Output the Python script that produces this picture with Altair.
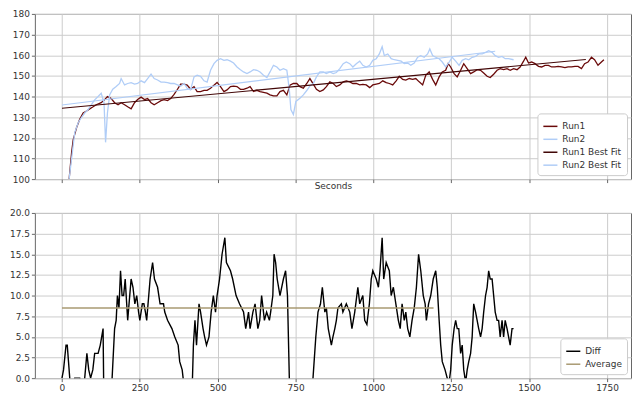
import altair as alt
import pandas as pd

# ---------------- data ----------------
run1_t = [0, 10, 18, 23, 31, 36, 47, 57, 68, 79, 89, 100, 110, 126, 137, 146, 158, 169, 180, 190,
          201, 211, 222, 233, 243, 254, 265, 275, 286, 296, 307, 318, 328, 339, 349, 360, 371, 381,
          392, 402, 413, 424, 434, 445, 456, 466, 477, 488, 498, 509, 520, 530, 541, 551, 562, 573,
          583, 594, 604, 615, 626, 636, 647, 658, 668, 679, 690, 700, 711, 722, 732, 743, 754, 764,
          775, 786, 796, 807, 817, 828, 839, 849, 860, 871, 881, 892, 903, 913, 924, 934, 945, 956,
          966, 977, 988, 998, 1009, 1019, 1030, 1041, 1051, 1062, 1073, 1083, 1094, 1104, 1115,
          1126, 1136, 1147, 1158, 1168, 1179, 1190, 1200, 1211, 1221, 1232, 1240, 1248, 1259, 1269,
          1280, 1290, 1301, 1312, 1322, 1333, 1344, 1354, 1365, 1375, 1386, 1397, 1407, 1418, 1429,
          1439, 1450, 1461, 1471, 1482, 1489, 1498, 1508, 1519, 1530, 1540, 1551, 1562, 1572, 1583,
          1593, 1604, 1615, 1625, 1636, 1647, 1657, 1668, 1678, 1689, 1700, 1710, 1721, 1732, 1740]
run1_v = [80, 88, 96, 100, 113, 119, 125, 129, 132, 133, 134, 135, 136, 137, 138.5, 140, 139, 137,
          136, 137, 136, 135, 134, 137, 138.5, 139.7, 138.5, 139, 137, 136, 137, 138, 138.5, 138,
          139, 141, 143.5, 146, 146, 145.5, 143.5, 144.8, 142.4, 142.4, 143, 143, 144, 145.5, 146.8,
          144.8, 142.4, 143.2, 144.8, 145, 144.8, 143.5, 143.5, 144, 144.8, 142.4, 143, 142.4, 142,
          141.6, 140.8, 140.3, 140.3, 142.4, 143, 140.8, 145.5, 146.3, 146.3, 144.8, 144, 146.3,
          148.7, 146, 143.5, 142.4, 143.2, 144.8, 147.1, 146.3, 144.8, 145.6, 147.1, 147.6, 147.1,
          146.3, 146.3, 145.6, 145.9, 145.6, 144.3, 145.6, 146, 146.3, 147.6, 146.7, 146.3, 145.6,
          147.6, 149.8, 148.3, 147.9, 148.7, 148.3, 148.7, 147.1, 145.6, 150.3, 151.9, 148.3, 145.6,
          149.5, 151.9, 152.7, 155.9, 154.3, 151.1, 149.5, 152.7, 155.9, 153.5, 151.1, 151.9, 153,
          152.7, 151.4, 149.8, 149.2, 150.8, 152.7, 153.5, 153, 153.5, 152.7, 153.5, 153, 154.3,
          157.1, 159, 156.2, 156.7, 155.9, 154.6, 154.3, 155.1, 155.1, 154.3, 154.3, 154.6, 154.3,
          154, 154.3, 154.3, 154.6, 154.6, 153.5, 155.9, 156.7, 159, 157.8, 155.1, 156.7, 157.8]

run2_t = [0, 10, 18, 23, 31, 41, 52, 62, 73, 84, 94, 105, 116, 126, 135, 140, 146, 153, 163, 174,
          185, 190, 201, 211, 222, 233, 243, 254, 265, 275, 286, 296, 307, 318, 328, 339, 349, 360,
          371, 381, 392, 402, 413, 424, 434, 445, 456, 466, 477, 488, 498, 509, 520, 530, 541, 551,
          562, 573, 583, 594, 604, 615, 626, 636, 647, 658, 668, 679, 690, 700, 711, 722, 730, 735,
          743, 751, 764, 775, 786, 796, 807, 817, 828, 839, 849, 860, 871, 881, 892, 903, 913, 924,
          934, 945, 956, 966, 977, 988, 998, 1009, 1019, 1028, 1035, 1046, 1057, 1067, 1078, 1089,
          1099, 1110, 1120, 1131, 1142, 1152, 1163, 1174, 1181, 1190, 1200, 1211, 1221, 1232, 1243,
          1253, 1264, 1275, 1285, 1296, 1306, 1317, 1328, 1338, 1349, 1360, 1370, 1381, 1391, 1402,
          1413, 1423, 1434, 1450]
run2_v = [78, 86, 95, 100, 110, 122.5, 127.3, 129.7, 132, 133.7, 136, 138.4, 140, 141.6, 137, 117.8,
          132, 140.8, 143.5, 144.8, 146.3, 148.7, 145.6, 146.3, 146.7, 146, 146.3, 147.6, 146.7,
          148.7, 150.8, 148.7, 148, 147, 147, 146.7, 146.3, 146.3, 145.6, 145, 146.3, 144, 143.2,
          149.5, 150.3, 149.8, 147.6, 147, 152.7, 155.9, 157.5, 158.3, 157.5, 157.8, 157.1, 156.2,
          154.3, 153, 151.9, 151.1, 151.9, 153, 152.7, 151.9, 150.3, 149.2, 151.9, 155.1, 154.3,
          152.7, 153.5, 152.7, 143.2, 133.7, 131.3, 137.6, 139.2, 140.8, 142.9, 145.1, 146.3, 149.5,
          151.9, 151.9, 151.1, 151.9, 151.1, 151.6, 153.5, 155.9, 156.7, 155.9, 154.3, 155.9, 157.1,
          155.1, 154.3, 155.1, 157.5, 158.3, 160.6, 164.1, 159.8, 160.6, 158.3, 157.8, 157.5, 157.1,
          155.9, 156.2, 155.1, 156.2, 159, 159.8, 159, 160.6, 163, 159.8, 159, 158.3, 156.7, 154.3,
          156.7, 159, 157.1, 155.1, 157.5, 158.3, 157.8, 159, 159.4, 160.6, 160.6, 161.4, 162.2,
          161.4, 159.8, 159, 159.4, 158.3, 158.3, 157.8]

fit1_t = [0, 1682]
fit1_v = [134.3, 157.9]
fit2_t = [0, 1391]
fit2_v = [135.9, 161.9]

diff_t = [0, 5, 13, 17, 21, 25, 32, 41, 57, 65, 73, 80, 86, 92, 99, 105, 116, 123, 132, 134, 150,
          161, 169, 174, 178, 183, 188, 193, 198, 203, 211, 222, 228, 234, 240, 246, 250, 258, 263,
          268, 272, 283, 291, 297, 307, 315, 326, 330, 339, 353, 362, 373, 378, 386, 389, 400, 419,
          422, 427, 432, 440, 445, 453, 458, 464, 472, 479, 486, 493, 498, 506, 514, 523, 528, 541,
          548, 559, 570, 583, 590, 599, 604, 613, 620, 629, 635, 641, 650, 657, 666, 670, 677, 681,
          686, 691, 700, 711, 718, 724, 730, 740, 770, 800, 806, 815, 822, 830, 836, 844, 849, 855,
          860, 865, 870, 876, 881, 886, 897, 902, 913, 924, 931, 940, 950, 956, 966, 972, 979, 987,
          993, 998, 1009, 1016, 1021, 1028, 1033, 1041, 1046, 1051, 1057, 1064, 1072, 1080, 1086,
          1092, 1099, 1104, 1110, 1117, 1124, 1131, 1138, 1145, 1152, 1160, 1166, 1170, 1177, 1184,
          1192, 1200, 1205, 1211, 1216, 1221, 1230, 1237, 1243, 1248, 1253, 1259, 1264, 1269, 1274,
          1280, 1285, 1290, 1296, 1301, 1306, 1312, 1317, 1322, 1328, 1333, 1338, 1344, 1349, 1354,
          1360, 1365, 1370, 1375, 1381, 1386, 1391, 1397, 1402, 1407, 1413, 1418, 1423, 1429, 1434,
          1439, 1445, 1450]
diff_v = [0, 1, 4, 4, 2, 0, -2, 0, 0, -2, 0, 3, 1, 0, 1, 3, 3, 4, 6, -1, -3, 0, 6, 7, 10, 8.5, 13,
          10, 10, 12, 7, 12, 11, 9, 10, 8, 7, 9, 9, 8, 7, 12, 14, 12, 11, 9, 9, 8, 7, 6, 5, 4, 2, 1,
          0, -3, 0, 4, 7, 4, 9, 8, 6, 5, 4, 5, 8, 10, 8, 10, 12, 15, 17, 14, 13, 12, 10, 9, 8, 6, 8,
          6, 8, 9, 6, 7, 10, 7, 8, 7, 8, 10, 15, 14, 12, 10, 12, 13, 10, 0, -10, -12, -3, 0, 5, 8, 9,
          11, 8, 8.5, 6, 5, 4, 5, 6, 7, 8.5, 9, 8, 9, 8, 6, 8, 11, 9, 10, 7, 6.5, 9, 12, 13, 12, 11,
          13, 17, 12, 14, 13.5, 13, 10, 11, 9, 7, 6, 9, 7, 8, 6, 5, 7, 8.5, 11, 15, 13, 10, 9, 7, 9,
          10, 12, 13, 11, 7, 4, 2, 1, 0, -0.5, 1, 4, 6, 7, 6, 6, 3, 4, 1, -0.5, 1, 2, 3, 5, 9, 8, 7,
          6, 5, 6, 8, 10, 11, 13, 12, 12, 10, 8, 7, 7, 5, 7, 5, 7, 6, 5, 4, 6, 6]

avg_t = [0, 1193]
avg_v = [8.5, 8.5]

top_names = ["Run1", "Run2", "Run1 Best Fit", "Run2 Best Fit"]
top_colors = ["#6a0a0a", "#b0cdf7", "#420707", "#b0cdf7"]
bot_names = ["Diff", "Average"]
bot_colors = ["#000000", "#a99a72"]
x_ticks = [0, 250, 500, 750, 1000, 1250, 1500, 1750]


def frame(ts, vs, name):
    return pd.DataFrame({"t": ts, "v": vs, "series": name})


runs_df = pd.concat([frame(run1_t, run1_v, "Run1"), frame(run2_t, run2_v, "Run2")])
fits_df = pd.concat([frame(fit1_t, fit1_v, "Run1 Best Fit"), frame(fit2_t, fit2_v, "Run2 Best Fit")])
diff_df = frame(diff_t, diff_v, "Diff")
avg_df = frame(avg_t, avg_v, "Average")

W, H = 599, 166
xscale = alt.Scale(domain=[-87, 1827], nice=False, zero=False)


def legend():
    return alt.Legend(title=None, orient="bottom-right", offset=4, fillColor="white",
                      strokeColor="#cccccc", cornerRadius=3, padding=5, symbolType="stroke",
                      symbolSize=200, symbolStrokeWidth=1.5, labelFontSize=9, labelColor="#333333",
                      rowPadding=0, labelFont="DejaVu Sans")


top_xaxis = alt.Axis(values=x_ticks, labels=False, title="Seconds", titleFontSize=9,
                     titleFontWeight="normal", titleColor="#333333", titlePadding=-2, grid=True)
bot_xaxis = alt.Axis(values=x_ticks, title=None, labelFontSize=9, grid=True, labelPadding=2,
                     format="d")

top_y = alt.Y("v:Q", scale=alt.Scale(domain=[100, 180], nice=False, zero=False),
              axis=alt.Axis(values=list(range(100, 181, 10)), title=None, format="d",
                            minExtent=26, maxExtent=26))
bot_y = alt.Y("v:Q", scale=alt.Scale(domain=[0, 20], nice=False, zero=False),
              axis=alt.Axis(values=[0, 2.5, 5, 7.5, 10, 12.5, 15, 17.5, 20], title=None, format=".1f",
                            minExtent=26, maxExtent=26))

top_color = alt.Color("series:N", scale=alt.Scale(domain=top_names, range=top_colors), legend=legend())
bot_color = alt.Color("series:N", scale=alt.Scale(domain=bot_names, range=bot_colors), legend=legend())

runs = alt.Chart(runs_df).mark_line(clip=True, strokeWidth=1.3).encode(
    x=alt.X("t:Q", scale=xscale, axis=top_xaxis), y=top_y, color=top_color,
    order=alt.Order("t:Q"))
fits = alt.Chart(fits_df).mark_line(clip=True, strokeWidth=1.1).encode(
    x=alt.X("t:Q", scale=xscale, axis=top_xaxis), y=top_y, color=top_color)
top = alt.layer(runs, fits).properties(width=W, height=H)

diff = alt.Chart(diff_df).mark_line(clip=True, strokeWidth=1.4).encode(
    x=alt.X("t:Q", scale=xscale, axis=bot_xaxis), y=bot_y, color=bot_color,
    order=alt.Order("t:Q"))
avg = alt.Chart(avg_df).mark_line(clip=True, strokeWidth=1.4).encode(
    x=alt.X("t:Q", scale=xscale, axis=bot_xaxis), y=bot_y, color=bot_color)
bottom = alt.layer(diff, avg).properties(width=W, height=H)

chart = alt.vconcat(top, bottom, spacing=34, bounds="flush").resolve_scale(
    color="independent").properties(
    padding={"left": 0, "top": 0, "right": 0, "bottom": 0},
    background="white",
).configure_view(stroke="#666666", strokeWidth=1).configure_axis(
    domain=False, gridColor="#cccccc", gridWidth=1, tickColor="#666666", tickSize=3.5,
    labelColor="#333333", labelFont="DejaVu Sans", titleFont="DejaVu Sans", labelFontSize=9,
    labelPadding=2,
)

chart.save("out.html", embed_options={"renderer": "svg", "actions": False})
